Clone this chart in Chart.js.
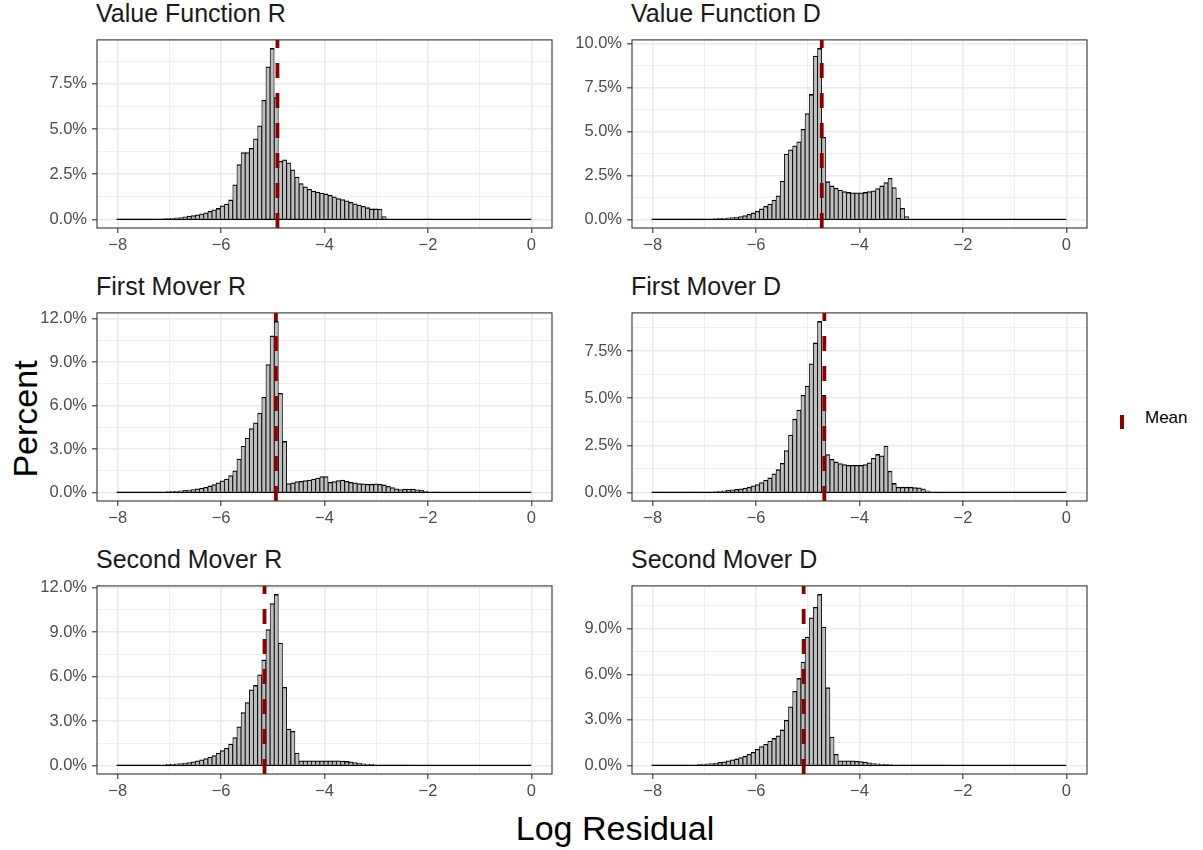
<!DOCTYPE html>
<html>
<head>
<meta charset="utf-8">
<title>Log residual histograms</title>
<script src="https://cdn.jsdelivr.net/npm/chart.js@4.4.1/dist/chart.umd.min.js"></script>
<style>
  body { margin: 0; background: #ffffff; font-family: "Liberation Sans", Arial, sans-serif; }
  #page { position: relative; width: 1203px; height: 850px; overflow: hidden; background: #ffffff; }
  #page canvas { position: absolute; }
  .strip { position: absolute; font-size: 25px; line-height: 25px; color: #1a1a1a; white-space: nowrap; }
  .axis-title { position: absolute; font-size: 34px; line-height: 34px; color: #000000; white-space: nowrap; }
  #ytitle { left: 25px; top: 419px; transform: translate(-50%, -50%) rotate(-90deg); }
  #xtitle { left: 615px; top: 811px; transform: translateX(-50%); }
  #legend-key { position: absolute; left: 1120px; top: 415px; width: 4px; height: 14px; background: #8b0000; }
  #legend-label { position: absolute; left: 1145px; top: 409px; font-size: 17px; line-height: 17px; color: #000000; }
</style>
</head>
<body>
<div id="page">
  <div class="axis-title" id="ytitle">Percent</div>
  <div class="axis-title" id="xtitle">Log Residual</div>
  <div id="legend-key"></div>
  <div id="legend-label">Mean</div>
</div>
<script>
// histogram bins: 100 equal bins over the log residual range
const BIN_START = -8.02;
const BIN_WIDTH = 0.0802;
const xBreaks = [-8, -6, -4, -2, 0];

const panelTitles = [
  'Value Function R', 'Value Function D',
  'First Mover R', 'First Mover D',
  'Second Mover R', 'Second Mover D'
];
const meanLogResidual = [-4.91, -4.73, -4.94, -4.68, -5.16, -5.08];
const yBreakSteps = [2.5, 2.5, 3, 2.5, 3, 3];

// percent of observations per bin
const valueFunctionR = [
  0.01, 0.01, 0.01, 0.01, 0.01, 0.01, 0.02, 0.02, 0.03, 0.03,
  0.04, 0.05, 0.06, 0.07, 0.09, 0.11, 0.14, 0.18, 0.22, 0.26,
  0.31, 0.37, 0.45, 0.53, 0.61, 0.75, 0.85, 1.08, 1.92, 3.03,
  3.70, 3.70, 3.93, 4.46, 5.18, 6.59, 8.44, 9.45, 6.74, 3.22,
  3.30, 3.13, 2.74, 2.34, 1.98, 1.80, 1.67, 1.57, 1.51, 1.46,
  1.41, 1.34, 1.25, 1.16, 1.10, 1.03, 0.95, 0.87, 0.80, 0.73,
  0.65, 0.58, 0.58, 0.57, 0.16, 0, 0, 0, 0, 0,
  0, 0, 0, 0, 0, 0, 0, 0, 0, 0,
  0, 0, 0, 0, 0, 0, 0, 0, 0, 0,
  0, 0, 0, 0, 0, 0, 0, 0, 0, 0
];
const valueFunctionD = [
  0.01, 0.01, 0.01, 0.01, 0.01, 0.01, 0.01, 0.01, 0.02, 0.02,
  0.02, 0.03, 0.03, 0.03, 0.04, 0.05, 0.06, 0.07, 0.09, 0.11,
  0.13, 0.17, 0.22, 0.29, 0.37, 0.47, 0.60, 0.75, 0.88, 1.10,
  1.35, 2.19, 3.73, 3.97, 4.19, 4.42, 5.13, 6.03, 7.12, 9.31,
  9.74, 4.68, 2.15, 1.91, 1.78, 1.67, 1.59, 1.54, 1.52, 1.52,
  1.52, 1.54, 1.59, 1.63, 1.76, 1.91, 2.10, 2.34, 1.82, 1.22,
  0.64, 0.17, 0, 0, 0, 0, 0, 0, 0, 0,
  0, 0, 0, 0, 0, 0, 0, 0, 0, 0,
  0, 0, 0, 0, 0, 0, 0, 0, 0, 0,
  0, 0, 0, 0, 0, 0, 0, 0, 0, 0
];
const firstMoverR = [
  0.01, 0.01, 0.01, 0.01, 0.01, 0.01, 0.01, 0.01, 0.02, 0.03,
  0.04, 0.05, 0.06, 0.07, 0.09, 0.11, 0.14, 0.16, 0.20, 0.25,
  0.30, 0.36, 0.45, 0.55, 0.66, 0.80, 0.93, 1.16, 1.50, 2.30,
  3.20, 3.75, 4.41, 4.80, 5.48, 6.57, 8.82, 10.80, 11.80, 6.84,
  3.52, 0.61, 0.66, 0.75, 0.77, 0.82, 0.86, 0.93, 1.00, 1.09,
  1.09, 0.70, 0.75, 0.82, 0.86, 0.77, 0.70, 0.66, 0.61, 0.59,
  0.57, 0.57, 0.59, 0.57, 0.52, 0.43, 0.34, 0.25, 0.20, 0.23,
  0.23, 0.23, 0.18, 0.14, 0.07, 0.05, 0.02, 0.01, 0, 0,
  0, 0, 0, 0, 0, 0, 0, 0, 0, 0,
  0, 0, 0, 0, 0, 0, 0, 0, 0, 0
];
const firstMoverD = [
  0.01, 0.01, 0.01, 0.01, 0.01, 0.01, 0.01, 0.01, 0.01, 0.01,
  0.01, 0.02, 0.03, 0.03, 0.04, 0.05, 0.07, 0.09, 0.11, 0.14,
  0.16, 0.19, 0.23, 0.28, 0.35, 0.42, 0.53, 0.65, 0.77, 0.99,
  1.21, 1.55, 2.22, 3.05, 3.89, 4.37, 5.16, 5.65, 6.83, 7.94,
  9.08, 5.16, 2.01, 1.76, 1.62, 1.53, 1.48, 1.44, 1.44, 1.44,
  1.44, 1.48, 1.57, 1.81, 2.02, 1.95, 2.46, 1.13, 0.48, 0.28,
  0.28, 0.28, 0.28, 0.26, 0.25, 0.19, 0.09, 0.04, 0.01, 0,
  0, 0, 0, 0, 0, 0, 0, 0, 0, 0,
  0, 0, 0, 0, 0, 0, 0, 0, 0, 0,
  0, 0, 0, 0, 0, 0, 0, 0, 0, 0
];
const secondMoverR = [
  0.01, 0.01, 0.01, 0.01, 0.01, 0.01, 0.01, 0.01, 0.02, 0.03,
  0.04, 0.05, 0.07, 0.09, 0.11, 0.13, 0.16, 0.20, 0.25, 0.31,
  0.38, 0.47, 0.56, 0.67, 0.83, 1.00, 1.16, 1.45, 1.88, 2.61,
  3.57, 4.24, 5.11, 5.40, 6.12, 7.12, 9.17, 10.92, 11.54, 8.26,
  5.27, 2.46, 2.30, 0.83, 0.31, 0.31, 0.31, 0.31, 0.31, 0.31,
  0.31, 0.31, 0.31, 0.31, 0.29, 0.27, 0.25, 0.20, 0.16, 0.11,
  0.09, 0.07, 0.05, 0.04, 0.03, 0.02, 0.01, 0.01, 0.01, 0.01,
  0.01, 0, 0, 0, 0, 0, 0, 0, 0, 0,
  0, 0, 0, 0, 0, 0, 0, 0, 0, 0,
  0, 0, 0, 0, 0, 0, 0, 0, 0, 0
];
const secondMoverD = [
  0.01, 0.01, 0.01, 0.01, 0.01, 0.01, 0.01, 0.02, 0.03, 0.04,
  0.05, 0.07, 0.09, 0.11, 0.13, 0.15, 0.20, 0.24, 0.30, 0.37,
  0.43, 0.52, 0.61, 0.74, 0.87, 1.06, 1.24, 1.39, 1.61, 1.78,
  1.95, 2.34, 2.97, 3.86, 4.88, 5.73, 6.81, 8.46, 9.72, 10.41,
  11.26, 9.11, 5.12, 1.87, 0.74, 0.30, 0.30, 0.30, 0.30, 0.28,
  0.26, 0.22, 0.17, 0.13, 0.11, 0.09, 0.07, 0.06, 0.05, 0.04,
  0.03, 0.03, 0.02, 0.02, 0.01, 0.01, 0.01, 0.01, 0.01, 0.01,
  0.01, 0, 0, 0, 0, 0, 0, 0, 0, 0,
  0, 0, 0, 0, 0, 0, 0, 0, 0, 0,
  0, 0, 0, 0, 0, 0, 0, 0, 0, 0
];
const panelValues = [valueFunctionR, valueFunctionD, firstMoverR, firstMoverD, secondMoverR, secondMoverD];

// layout of the 3 x 2 facet grid
const PLOT_W = 455, PLOT_H = 191;
const Y_AXIS_W = 80, X_AXIS_H = 36, PAD_TOP = 12, PAD_RIGHT = 12;
const colLeft = [97, 632];
const rowTop = [37, 310, 583];

Chart.defaults.font.family = '"Liberation Sans", Arial, sans-serif';

const GRID = '#ebebeb';
const DARK = '#333333';

const fmtX = v => (v < 0 ? '\u2212' + Math.abs(v) : String(v));
const isMultiple = (v, step) => Math.abs(v / step - Math.round(v / step)) < 1e-6;

// baseline for empty bins, dashed mean line and the panel frame
const panelDecor = {
  id: 'panelDecor',
  afterDatasetsDraw(chart, args, opts) {
    const { ctx, chartArea: a, scales: { x, y } } = chart;
    ctx.save();
    const y0 = y.getPixelForValue(0);
    ctx.strokeStyle = '#000000';
    ctx.lineWidth = 1.3;
    ctx.beginPath();
    ctx.moveTo(x.getPixelForValue(BIN_START), y0);
    ctx.lineTo(x.getPixelForValue(BIN_START + BIN_WIDTH * opts.bins), y0);
    ctx.stroke();

    const xm = x.getPixelForValue(opts.mean);
    ctx.strokeStyle = '#8b0000';
    ctx.lineWidth = 3.8;
    ctx.setLineDash([15, 15]);
    ctx.beginPath();
    ctx.moveTo(xm, a.bottom);
    ctx.lineTo(xm, a.top);
    ctx.stroke();
    ctx.restore();
  },
  afterDraw(chart) {
    const { ctx, chartArea: a } = chart;
    ctx.save();
    ctx.strokeStyle = DARK;
    ctx.lineWidth = 1.1;
    ctx.strokeRect(a.left, a.top, a.right - a.left, a.bottom - a.top);
    ctx.restore();
  }
};

const page = document.getElementById('page');

function makePanel(i) {
  const col = i % 2, row = Math.floor(i / 2);
  const values = panelValues[i];
  const step = yBreakSteps[i];

  const title = document.createElement('div');
  title.className = 'strip';
  title.textContent = panelTitles[i];
  title.style.left = (colLeft[col] - 1) + 'px';
  title.style.top = (rowTop[row] - 36) + 'px';
  page.appendChild(title);

  const canvas = document.createElement('canvas');
  canvas.width = Y_AXIS_W + PLOT_W + PAD_RIGHT;
  canvas.height = PAD_TOP + PLOT_H + X_AXIS_H;
  canvas.style.left = (colLeft[col] - Y_AXIS_W) + 'px';
  canvas.style.top = (rowTop[row] - PAD_TOP) + 'px';
  page.appendChild(canvas);

  const yMax = Math.max(...values);
  const yLo = -0.05 * yMax, yHi = 1.05 * yMax;

  // major breaks plus the minor lines halfway between them
  const yGrid = [];
  for (let v = 0; v <= yHi; v += step / 2) yGrid.push(Math.round(v * 1000) / 1000);
  const xGrid = [];
  for (let v = xBreaks[0]; v <= xBreaks[xBreaks.length - 1]; v += 1) xGrid.push(v);

  const points = values.map((v, k) => ({ x: BIN_START + BIN_WIDTH * (k + 0.5), y: v }));

  new Chart(canvas, {
    type: 'bar',
    data: {
      datasets: [{
        data: points,
        backgroundColor: '#bebebe',
        borderColor: '#000000',
        borderWidth: { top: 1.3, left: 0.85, right: 0.85, bottom: 0 },
        barPercentage: 1,
        categoryPercentage: 1
      }]
    },
    options: {
      responsive: false,
      animation: false,
      devicePixelRatio: 1,
      layout: { padding: { top: PAD_TOP, right: PAD_RIGHT, left: 0, bottom: 0 } },
      plugins: {
        legend: { display: false },
        tooltip: { enabled: false },
        panelDecor: { mean: meanLogResidual[i], bins: values.length }
      },
      scales: {
        x: {
          type: 'linear',
          min: -8.4,
          max: 0.4,
          offset: false,
          afterBuildTicks: s => { s.ticks = xGrid.map(v => ({ value: v })); },
          afterFit: s => { s.height = X_AXIS_H; },
          border: { display: false },
          grid: {
            offset: false,
            color: GRID,
            lineWidth: c => (xBreaks.includes(c.tick.value) ? 1.6 : 0.8),
            tickColor: c => (xBreaks.includes(c.tick.value) ? DARK : 'rgba(0,0,0,0)'),
            tickWidth: 1.1,
            tickLength: 5
          },
          ticks: {
            autoSkip: false,
            maxRotation: 0,
            padding: 3,
            color: '#4d4d4d',
            font: { size: 16.5 },
            callback: v => (xBreaks.includes(v) ? fmtX(v) : '')
          }
        },
        y: {
          min: yLo,
          max: yHi,
          afterBuildTicks: s => { s.ticks = yGrid.map(v => ({ value: v })); },
          afterFit: s => { s.width = Y_AXIS_W; },
          border: { display: false },
          grid: {
            color: GRID,
            lineWidth: c => (isMultiple(c.tick.value, step) ? 1.6 : 0.8),
            tickColor: c => (isMultiple(c.tick.value, step) ? DARK : 'rgba(0,0,0,0)'),
            tickWidth: 1.1,
            tickLength: 5
          },
          ticks: {
            autoSkip: false,
            padding: 5,
            color: '#4d4d4d',
            font: { size: 16.5 },
            callback: v => (isMultiple(v, step) ? v.toFixed(1) + '%' : '')
          }
        }
      }
    },
    plugins: [panelDecor]
  });
}

panelTitles.forEach((t, i) => makePanel(i));
</script>
</body>
</html>
